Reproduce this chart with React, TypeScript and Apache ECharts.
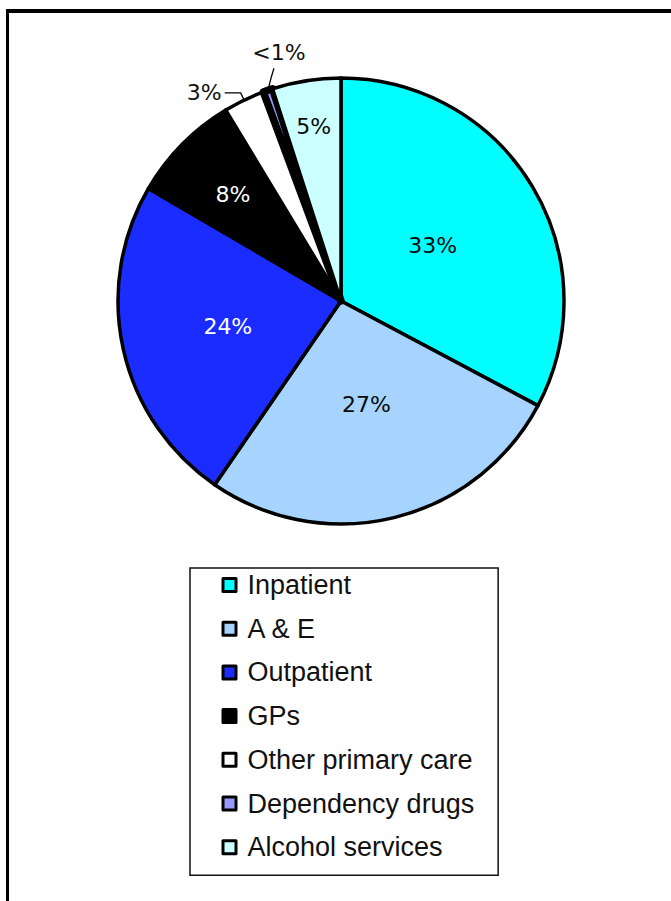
import { useEffect, useRef } from "react";
import * as echarts from "echarts";

const categories = [
  "Inpatient",
  "A & E",
  "Outpatient",
  "GPs",
  "Other primary care",
  "Dependency drugs",
  "Alcohol services",
];
const shares = [33, 27, 24, 8, 3, 0.7, 5];
const shareLabels = ["33%", "27%", "24%", "8%", "3%", "<1%", "5%"];
const sliceColors = ["#00ffff", "#a6d4ff", "#1a2cff", "#000000", "#ffffff", "#9999ff", "#ccffff"];
const labelColors = ["#0a0a0a", "#0a0a0a", "#ffffff", "#ffffff", "#111111", "#111111", "#0a0a0a"];
const outsideLabel = [false, false, false, false, true, true, false];

export default function App() {
  const ref = useRef<HTMLDivElement>(null);

  useEffect(() => {
    if (!ref.current) return;
    const chart = echarts.init(ref.current, undefined, { renderer: "svg" });
    const CX = 341;
    const CY = 301;
    const R = 223;
    // radial placement of inside labels, as fraction of the radius
    const insideFrac = [0.48, 0.48, 0.52, 0.68, 0.5, 0.5, 0.79];
    // thin slice drawn with a heavier outline, as in the source
    const sliceBorder = [3.5, 3.5, 3.5, 3.5, 3.5, 7.5, 3.5];
    const total = shares.reduce((a, b) => a + b, 0);
    const midAngle = (i: number) => {
      let cum = 0;
      for (let k = 0; k < i; k++) cum += shares[k];
      return ((cum + shares[i] / 2) / total) * Math.PI * 2;
    };

    chart.setOption({
      animation: false,
      backgroundColor: "#ffffff",
      graphic: [
        { type: "line", shape: { x1: 6, y1: 11, x2: 671, y2: 11 }, style: { stroke: "#000", lineWidth: 4 } },
        { type: "line", shape: { x1: 7.5, y1: 9, x2: 7.5, y2: 901 }, style: { stroke: "#000", lineWidth: 3 } },
      ],
      legend: {
        orient: "vertical",
        left: 190,
        top: 568,
        padding: [2, 24, 13, 31.5],
        itemWidth: 13,
        itemHeight: 13,
        itemGap: 13.7,
        icon: "rect",
        backgroundColor: "#ffffff",
        borderColor: "#111111",
        borderWidth: 1.5,
        itemStyle: { borderColor: "#000000", borderWidth: 3 },
        textStyle: {
          fontFamily: "Liberation Sans",
          fontSize: 27,
          color: "#111111",
          lineHeight: 30,
          padding: [0, 0, 0, 6.5],
        },
        selectedMode: false,
        data: categories,
      },
      series: [
        {
          type: "pie",
          center: [CX, CY],
          radius: R,
          startAngle: 90,
          clockwise: true,
          avoidLabelOverlap: false,
          emphasis: { disabled: true },
          itemStyle: { borderColor: "#000000", borderWidth: 3.5 },
          label: {
            fontFamily: "DejaVu Sans",
            fontSize: 22,
            distanceToLabelLine: 3,
            formatter: (p: any) => shareLabels[p.dataIndex],
          },
          labelLine: { length: 8, length2: 16, lineStyle: { color: "#000", width: 1.3 } },
          labelLayout: (params: any) => {
            const i = params.dataIndex;
            if (!outsideLabel[i]) {
              const a = midAngle(i);
              const d = insideFrac[i] * R;
              return {
                x: CX + d * Math.sin(a),
                y: CY - d * Math.cos(a),
                align: "center",
                verticalAlign: "middle",
              };
            }
            if (i === 5) {
              const a = midAngle(i);
              const ex = CX + R * Math.sin(a);
              const ey = CY - R * Math.cos(a);
              return {
                x: ex + 11,
                y: ey - 27,
                align: "center",
                verticalAlign: "bottom",
                labelLinePoints: [
                  [ex, ey],
                  [ex + 3, ey - 12],
                  [ex + 6, ey - 22],
                ],
              };
            }
            return {};
          },
          data: categories.map((name, i) => ({
            name,
            value: shares[i],
            itemStyle: { color: sliceColors[i], borderWidth: sliceBorder[i] },
            label: {
              position: outsideLabel[i] ? "outside" : "inner",
              color: labelColors[i],
            },
            labelLine: { show: outsideLabel[i] },
          })),
        },
      ],
    });
    return () => chart.dispose();
  }, []);

  return (
    <div
      ref={ref}
      style={{ position: "fixed", left: 0, top: 0, width: 671, height: 901, background: "#fff" }}
    />
  );
}
